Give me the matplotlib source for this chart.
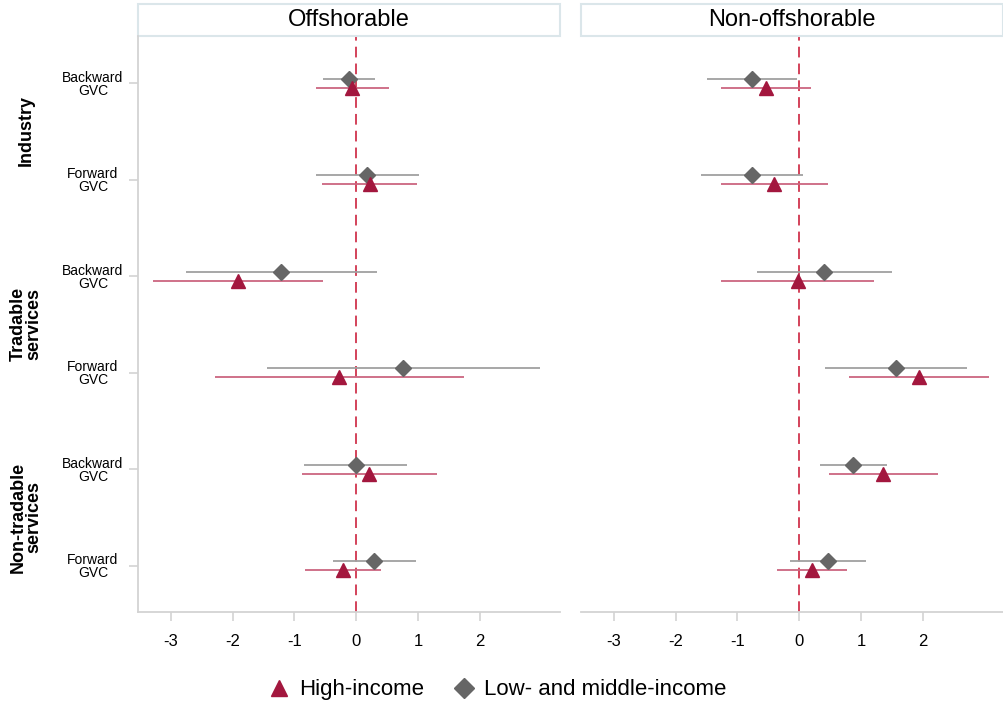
import numpy as np
import matplotlib
matplotlib.use("Agg")
import matplotlib.pyplot as plt
from matplotlib.patches import Rectangle
from matplotlib.lines import Line2D

plt.rcParams['font.family'] = ['Liberation Sans', 'DejaVu Sans']

# rows, top to bottom
row_labels = ["Backward\nGVC", "Forward\nGVC"] * 3
groups = ["Industry", "Tradable\nservices", "Non-tradable\nservices"]
panels = ["Offshorable", "Non-offshorable"]

# Offshorable panel
off_hi = [-0.06, 0.22, -1.91, -0.27, 0.21, -0.21]
off_hi_lo = [-0.65, -0.55, -3.29, -2.29, -0.88, -0.82]
off_hi_hi = [0.53, 0.98, -0.53, 1.75, 1.31, 0.41]
off_lm = [-0.12, 0.18, -1.21, 0.76, 0.00, 0.29]
off_lm_lo = [-0.54, -0.65, -2.76, -1.44, -0.84, -0.38]
off_lm_hi = [0.31, 1.01, 0.34, 2.97, 0.83, 0.97]

# Non-offshorable panel
non_hi = [-0.53, -0.40, -0.02, 1.94, 1.36, 0.21]
non_hi_lo = [-1.26, -1.27, -1.26, 0.81, 0.48, -0.35]
non_hi_hi = [0.19, 0.47, 1.22, 3.08, 2.24, 0.77]
non_lm = [-0.76, -0.77, 0.41, 1.57, 0.88, 0.46]
non_lm_lo = [-1.49, -1.58, -0.68, 0.42, 0.34, -0.15]
non_lm_hi = [-0.03, 0.07, 1.51, 2.72, 1.42, 1.08]

xticks = [-3, -2, -1, 0, 1, 2]

red = "#a3173e"
red_ci = "#cc6680"
gray = "#666666"
gray_ci = "#a0a0a0"
axis_col = "#d3d3d3"

data = [
    (off_hi, off_hi_lo, off_hi_hi, off_lm, off_lm_lo, off_lm_hi),
    (non_hi, non_hi_lo, non_hi_hi, non_lm, non_lm_lo, non_lm_hi),
]

fig = plt.figure(figsize=(10.04, 7.09), dpi=100)
ax_pos = [[0.1375, 0.1368, 0.4203, 0.8124], [0.5787, 0.1368, 0.4203, 0.8124]]

y = np.arange(1, 7)
off = 0.048

for k, (title, d) in enumerate(zip(panels, data)):
    hi, hi_lo, hi_hi, lm, lm_lo, lm_hi = d
    ax = fig.add_axes(ax_pos[k])
    ax.axvline(0, color="#c8102e", lw=1.1, ls=(0, (7, 4)), zorder=1)
    ax.hlines(y - off, lm_lo, lm_hi, color=gray_ci, lw=1.3, zorder=2)
    ax.hlines(y + off, hi_lo, hi_hi, color=red_ci, lw=1.3, zorder=2)
    ax.plot(lm, y - off, ls="none", marker="D", ms=8.1, color=gray, zorder=3)
    ax.plot(hi, y + off, ls="none", marker="^", ms=10.5, color=red, zorder=3)

    ax.set_xlim(-3.53, 3.30)
    ax.set_ylim(6.48, 0.51)
    ax.set_xticks(xticks)
    ax.set_xticklabels([str(t) for t in xticks], fontsize=12)
    ax.tick_params(axis="x", length=6.5, width=1.2, color=axis_col, pad=9)
    for s in ["top", "right"]:
        ax.spines[s].set_visible(False)
    ax.spines["bottom"].set_color(axis_col)
    ax.spines["bottom"].set_linewidth(1.3)
    if k == 0:
        ax.set_yticks(y)
        ax.set_yticklabels(row_labels, fontsize=10, multialignment="center",
                           linespacing=0.9)
        ax.tick_params(axis="y", length=6.5, width=1.2, color=axis_col, pad=6)
        ax.spines["left"].set_color(axis_col)
        ax.spines["left"].set_linewidth(1.3)
        for lab in ax.get_yticklabels():
            lab.set_horizontalalignment("center")
            lab.set_x(-0.066)
            lab.set_y(lab.get_position()[1])
    else:
        ax.set_yticks([])
        ax.spines["left"].set_visible(False)

    # panel header
    h = 32 / (0.8124 * 709)
    ax.add_patch(Rectangle((0, 1.0), 1.0, h, transform=ax.transAxes,
                           facecolor="white", edgecolor="#dbe6ea", lw=1.5,
                           clip_on=False))
    ax.text(0.5, 1.0 + h / 2, title, transform=ax.transAxes, ha="center",
            va="center", fontsize=17)

# group labels
for i, g in enumerate(groups):
    yc = 1 - (130 + i * 193.5) / 709
    fig.text(0.026, yc, g, rotation=90, ha="center", va="center",
             fontsize=13, fontweight="bold", linespacing=0.95)

handles = [
    Line2D([], [], ls="none", marker="^", ms=12, color=red, label="High-income"),
    Line2D([], [], ls="none", marker="D", ms=10, color=gray,
           label="Low- and middle-income"),
]
fig.legend(handles=handles, loc="center", bbox_to_anchor=(0.495, 0.027),
           ncol=2, frameon=False, fontsize=16, handlelength=1.0,
           handletextpad=0.4, columnspacing=1.3)

fig.savefig("out.png", dpi=100)
